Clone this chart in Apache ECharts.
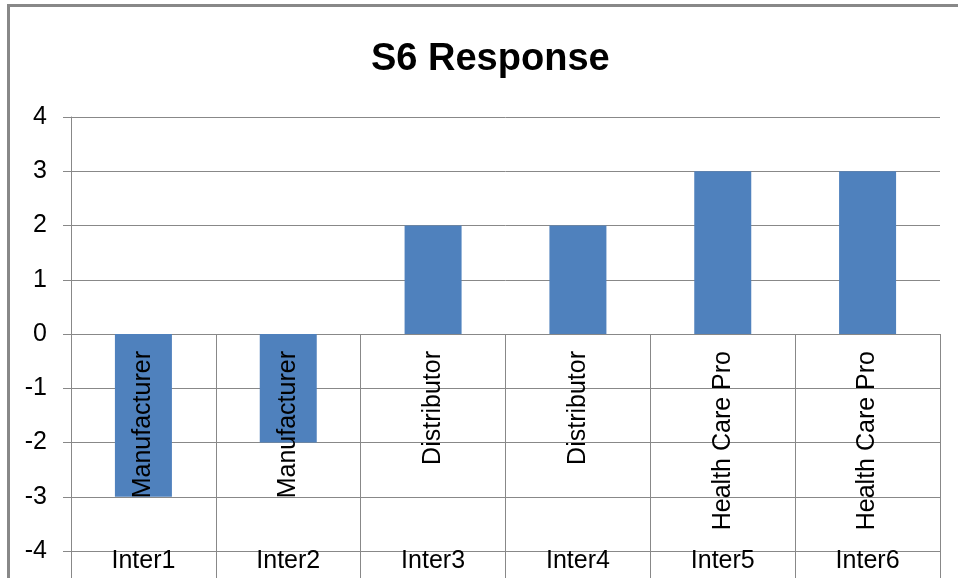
<!DOCTYPE html>
<html>
<head>
<meta charset="utf-8">
<title>S6 Response</title>
<script src="https://cdn.jsdelivr.net/npm/echarts@6/dist/echarts.min.js"></script>
<style>
  html, body { margin: 0; padding: 0; background: #ffffff; }
  #chart { width: 958px; height: 578px; }
</style>
</head>
<body>
<div id="chart"></div>
<script>
// Interviewees, their role, and the S6 score given by each
const interviewees = ['Inter1', 'Inter2', 'Inter3', 'Inter4', 'Inter5', 'Inter6'];
const roles = ['Manufacturer', 'Manufacturer', 'Distributor', 'Distributor', 'Health Care Pro', 'Health Care Pro'];
const scores = [-3, -2, 2, 2, 3, 3];
const yTicks = { min: -4, max: 4, step: 1 };

const FONT = '"Liberation Sans", Arial, sans-serif';
const GRID_GREY = '#888888';

const chart = echarts.init(document.getElementById('chart'), null, { renderer: 'canvas' });

// role names hang from the zero line, one per interviewee
const roleAnchors = interviewees.map((name, i) => ({ value: [name, 0], role: roles[i] }));

chart.setOption({
  backgroundColor: '#ffffff',
  animation: false,
  title: {
    text: 'S6 Response',
    left: 366,
    top: 36,
    textStyle: { fontFamily: FONT, fontWeight: 'bold', fontSize: 38, color: '#000000' }
  },
  grid: { left: 71, right: 18, top: 117, bottom: 27, containLabel: false, outerBoundsMode: 'none' },
  xAxis: [
    {
      type: 'category',
      data: interviewees,
      axisLine: { onZero: true, lineStyle: { color: GRID_GREY, width: 1 } },
      axisTick: { show: true, interval: 0, length: 260, lineStyle: { color: GRID_GREY, width: 1 } },
      axisLabel: {
        interval: 0, margin: 0, verticalAlign: 'top', lineHeight: 20,
        fontFamily: FONT, fontSize: 25, color: '#000000'
      },
      splitLine: { show: false }
    }
  ],
  yAxis: {
    type: 'value',
    min: yTicks.min,
    max: yTicks.max,
    interval: yTicks.step,
    axisLine: { show: true, lineStyle: { color: GRID_GREY, width: 1 } },
    axisTick: { show: true, length: 8, lineStyle: { color: GRID_GREY, width: 1 } },
    axisLabel: { margin: 24, fontFamily: FONT, fontSize: 25, color: '#000000' },
    splitLine: { show: true, lineStyle: { color: GRID_GREY, width: 1 } }
  },
  graphic: [
    {
      // chart frame
      type: 'rect',
      shape: { x: 8.5, y: 5.5, width: 1000, height: 1000 },
      style: { fill: 'none', stroke: GRID_GREY, lineWidth: 3 },
      silent: true
    }
  ],
  series: [
    {
      type: 'bar',
      data: scores,
      barWidth: 57,
      itemStyle: { color: '#4F81BD' }
    },
    {
      type: 'scatter',
      data: roleAnchors,
      symbolSize: 0,
      silent: true,
      z: 5,
      itemStyle: { opacity: 1 },
      label: {
        show: true,
        position: 'bottom',
        distance: 17,
        rotate: 90,
        align: 'right',
        verticalAlign: 'middle',
        fontFamily: FONT,
        fontSize: 25,
        color: '#000000',
        opacity: 1,
        formatter: (p) => p.data.role
      }
    }
  ]
});
</script>
</body>
</html>
